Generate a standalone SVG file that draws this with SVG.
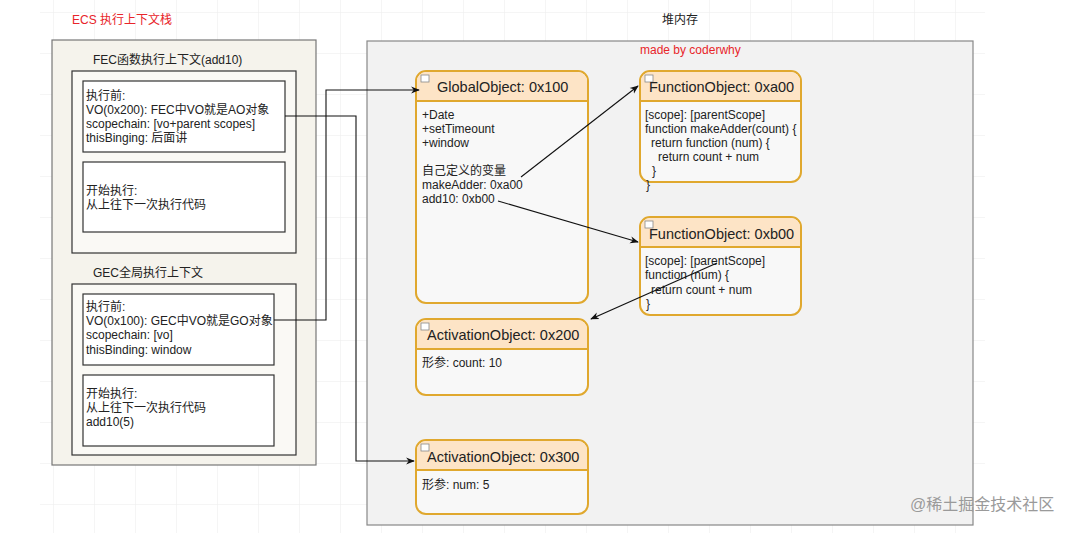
<svg xmlns="http://www.w3.org/2000/svg" width="1087" height="533" viewBox="0 0 1087 533">
<defs>
<pattern id="grid" width="41" height="41" patternUnits="userSpaceOnUse" x="12" y="12"><path d="M41 0H0V41" fill="none" stroke="#ececec" stroke-width="1"/></pattern>
<marker id="ar" viewBox="0 0 10 10" refX="9" refY="5" markerWidth="8" markerHeight="8" orient="auto"><path d="M0 1L10 5L0 9L3 5Z" fill="#111"/></marker>
<style>
text{font-family:"Liberation Sans","Noto Sans CJK SC",sans-serif;font-size:12px;fill:#222}
.box{fill:#fff;stroke:#333;stroke-width:1.2}
.obj{fill:#f8f8f8;stroke:#e0a82e;stroke-width:2}
.hd{fill:#fde4c6}
.ht{font-size:14.5px}
.red{fill:#e8252a}
.c{fill:none;stroke:#111;stroke-width:1.1}
</style>
</defs>
<rect width="1087" height="533" fill="#fff"/>
<rect x="40" y="0" width="945" height="533" fill="url(#grid)"/>
<text class="red" x="72" y="24">ECS 执行上下文栈</text>
<text x="662" y="24">堆内存</text>
<g id="ecs"><rect x="52" y="40" width="264" height="425" fill="#f5f3ec" stroke="#777" stroke-width="1.2"/></g>
<g id="fec">
<text x="93" y="64">FEC函数执行上下文(add10)</text>
<rect x="72" y="71" width="224" height="182" class="box" style="fill:#faf9f5"/>
<rect x="83" y="81" width="202" height="71" class="box"/>
<text x="86" y="100">执行前:</text><text x="86" y="114">VO(0x200): FEC中VO就是AO对象</text><text x="86" y="128">scopechain: [vo+parent scopes]</text><text x="86" y="142">thisBinging: 后面讲</text>
<rect x="83" y="162" width="202" height="70" class="box"/>
<text x="86" y="195">开始执行:</text><text x="86" y="209">从上往下一次执行代码</text>
</g>
<g id="gec">
<text x="93" y="277">GEC全局执行上下文</text>
<rect x="72" y="284" width="224" height="171" class="box" style="fill:#faf9f5"/>
<rect x="83" y="294" width="191" height="71" class="box"/>
<text x="86" y="311">执行前:</text><text x="86" y="325">VO(0x100): GEC中VO就是GO对象</text><text x="86" y="339">scopechain: [vo]</text><text x="86" y="354">thisBinding: window</text>
<rect x="83" y="375" width="191" height="71" class="box"/>
<text x="86" y="398">开始执行:</text><text x="86" y="412">从上往下一次执行代码</text><text x="86" y="426">add10(5)</text>
</g>
<g id="heap"><rect x="367" y="41" width="606" height="484" fill="#f2f2f2" stroke="#888" stroke-width="1.2"/>
<text class="red" x="640" y="54">made by coderwhy</text></g>
<g id="go">
<rect x="416" y="71" width="172" height="232" rx="10" class="obj"/>
<path d="M417 101V81a9 9 0 0 1 9-9h152a9 9 0 0 1 9 9v20Z" class="hd"/>
<line x1="416" y1="101" x2="588" y2="101" stroke="#e0a82e" stroke-width="2"/>
<rect x="421" y="75" width="8" height="7" fill="#fff" stroke="#888" stroke-width="0.8"/>
<text class="ht" x="437" y="92">GlobalObject: 0x100</text>
<text x="422" y="119">+Date</text><text x="422" y="133">+setTimeount</text><text x="422" y="147">+window</text>
<text x="422" y="175">自己定义的变量</text><text x="422" y="189">makeAdder: 0xa00</text><text x="422" y="203">add10: 0xb00</text>
</g>
<g id="fa00">
<rect x="640" y="71" width="161" height="111" rx="10" class="obj"/>
<path d="M641 101V81a9 9 0 0 1 9-9h141a9 9 0 0 1 9 9v20Z" class="hd"/>
<line x1="640" y1="101" x2="801" y2="101" stroke="#e0a82e" stroke-width="2"/>
<rect x="645" y="75" width="8" height="7" fill="#fff" stroke="#888" stroke-width="0.8"/>
<text class="ht" x="649" y="92">FunctionObject: 0xa00</text>
<text x="645" y="119">[scope]: [parentScope]</text><text x="645" y="133">function makeAdder(count) {</text><text x="651" y="147">return function (num) {</text><text x="658" y="161">return count + num</text><text x="652" y="175">}</text><text x="646" y="189">}</text>
</g>
<g id="fb00">
<rect x="640" y="217" width="161" height="98" rx="10" class="obj"/>
<path d="M641 247V227a9 9 0 0 1 9-9h141a9 9 0 0 1 9 9v20Z" class="hd"/>
<line x1="640" y1="247" x2="801" y2="247" stroke="#e0a82e" stroke-width="2"/>
<rect x="645" y="221" width="8" height="7" fill="#fff" stroke="#888" stroke-width="0.8"/>
<text class="ht" x="649" y="239">FunctionObject: 0xb00</text>
<text x="645" y="265">[scope]: [parentScope]</text><text x="645" y="279">function (num) {</text><text x="651" y="294">return count + num</text><text x="646" y="308">}</text>
</g>
<g id="ao200">
<rect x="416" y="319" width="172" height="76" rx="10" class="obj"/>
<path d="M417 349V329a9 9 0 0 1 9-9h152a9 9 0 0 1 9 9v20Z" class="hd"/>
<line x1="416" y1="349" x2="588" y2="349" stroke="#e0a82e" stroke-width="2"/>
<rect x="421" y="323" width="8" height="7" fill="#fff" stroke="#888" stroke-width="0.8"/>
<text class="ht" x="427" y="340">ActivationObject: 0x200</text>
<text x="422" y="367">形参: count: 10</text>
</g>
<g id="ao300">
<rect x="416" y="440" width="172" height="74" rx="10" class="obj"/>
<path d="M417 470V450a9 9 0 0 1 9-9h152a9 9 0 0 1 9 9v20Z" class="hd"/>
<line x1="416" y1="470" x2="588" y2="470" stroke="#e0a82e" stroke-width="2"/>
<rect x="421" y="444" width="8" height="7" fill="#fff" stroke="#888" stroke-width="0.8"/>
<text class="ht" x="427" y="462">ActivationObject: 0x300</text>
<text x="422" y="489">形参: num: 5</text>
</g>
<g id="connectors">
<path class="c" d="M285 116H356V461H414" marker-end="url(#ar)"/>
<path class="c" d="M274 320H326V90H419" marker-end="url(#ar)"/>
<path class="c" d="M521 177L638 86" marker-end="url(#ar)"/>
<path class="c" d="M498 201L638 242" marker-end="url(#ar)"/>
<path class="c" d="M717 263L591 319" marker-end="url(#ar)"/>
</g>
<text x="910" y="510" style="font-size:16px;fill:#9a9a9a">@稀土掘金技术社区</text>
</svg>
